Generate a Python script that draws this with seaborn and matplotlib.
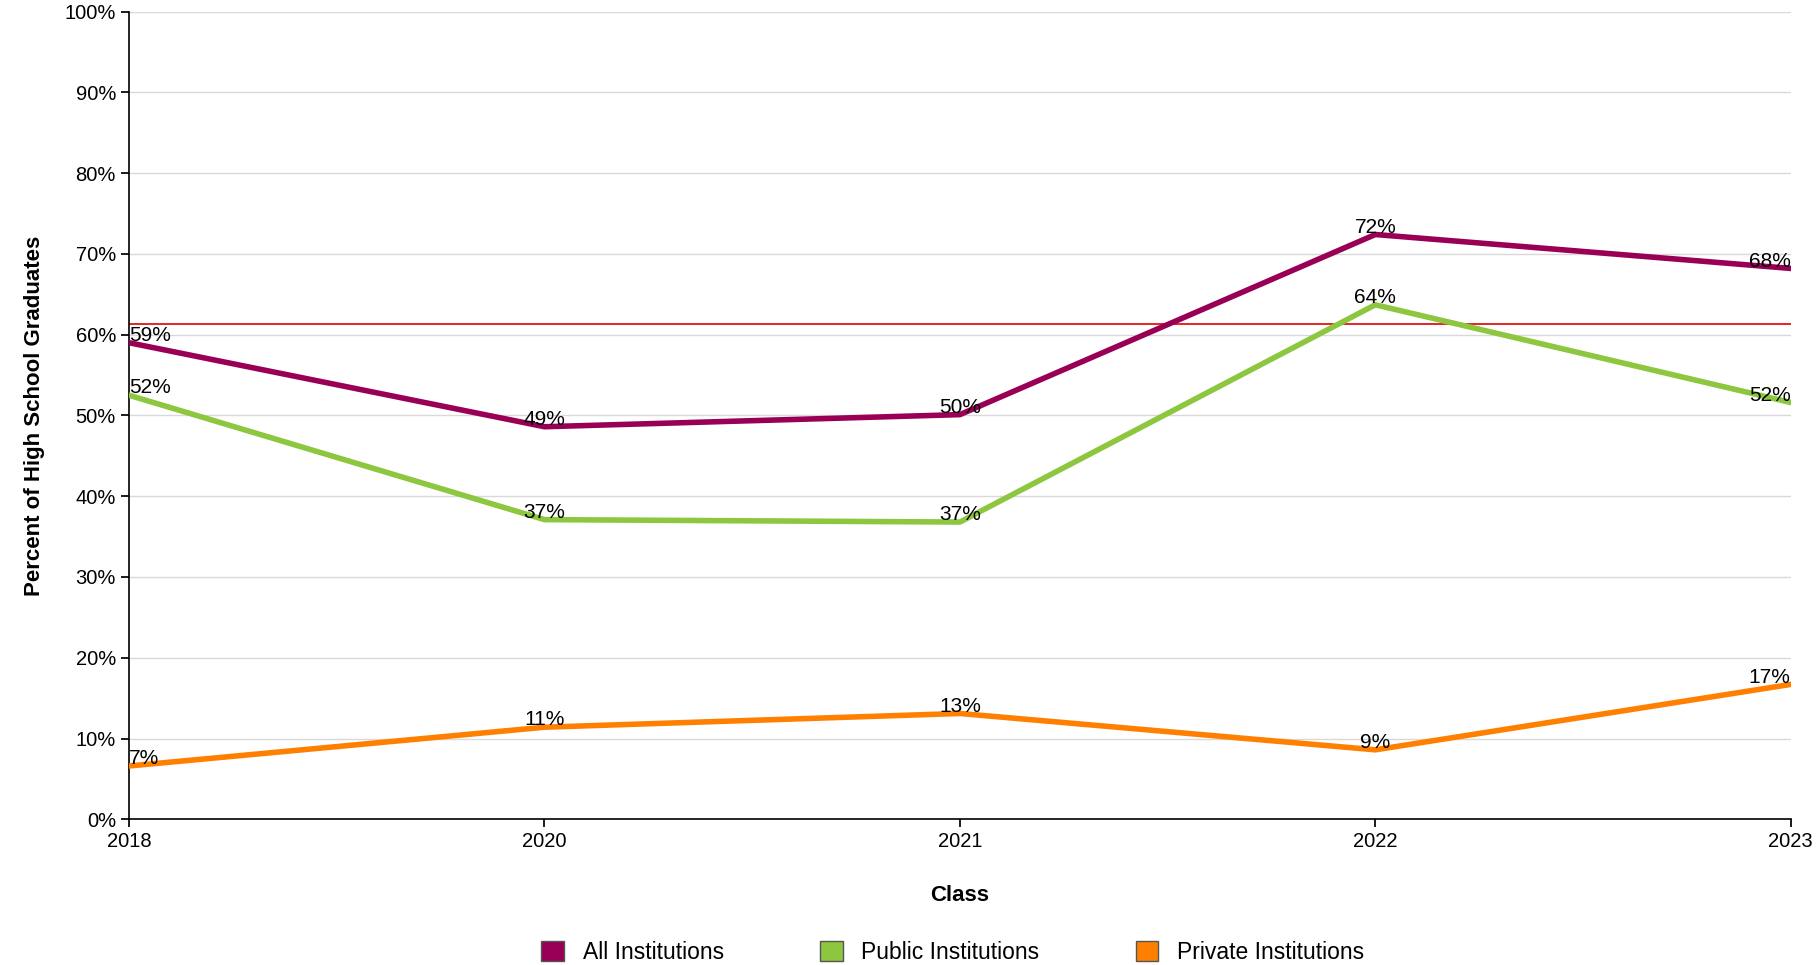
import matplotlib
matplotlib.use("Agg")
import matplotlib.pyplot as plt
import seaborn as sns
import pandas as pd
from matplotlib.patches import Patch

sns.set_theme(style="white")
plt.rcParams['font.family'] = ['Liberation Sans', 'DejaVu Sans']

classes = ['2018', '2020', '2021', '2022', '2023']
all_inst = [59.0, 48.6, 50.1, 72.4, 68.2]
public_inst = [52.5, 37.1, 36.8, 63.7, 51.6]
private_inst = [6.6, 11.4, 13.1, 8.6, 16.7]
reference_line = 61.3

series = {
    'All Institutions': (all_inst, '#990055'),
    'Public Institutions': (public_inst, '#8dc63f'),
    'Private Institutions': (private_inst, '#ff8000'),
}

rows = []
for name, (vals, _) in series.items():
    for i, v in enumerate(vals):
        rows.append({'x': i, 'value': v, 'series': name})
df = pd.DataFrame(rows)

fig = plt.figure(figsize=(18.18, 9.65), dpi=100)
ax = fig.add_axes([0.071, 0.151, 0.914, 0.837])

for y in range(10, 101, 10):
    ax.axhline(y, color='#d9d9d9', lw=1, zorder=0)
ax.axhline(reference_line, color='#e00000', lw=1.2, zorder=1)

palette = {k: c for k, (_, c) in series.items()}
sns.lineplot(data=df, x='x', y='value', hue='series', palette=palette,
             lw=4, legend=False, ax=ax, zorder=3)

for name, (vals, _) in series.items():
    for i, v in enumerate(vals):
        ha = 'left' if i == 0 else ('right' if i == 4 else 'center')
        ax.text(i, v + 0.9, f"{v:.0f}%", ha=ha, va='center',
                fontsize=15, color='black', zorder=4)

ax.set_xlim(0, 4)
ax.set_ylim(0, 100)
ax.set_xticks(range(5))
ax.set_xticklabels(classes, fontsize=14.5, color='black')
ax.set_yticks(range(0, 101, 10))
ax.set_yticklabels([f"{y}%" for y in range(0, 101, 10)], fontsize=14.5, color='black')
ax.tick_params(axis='both', length=6, color='black', direction='out', left=True, bottom=True)
for s in ['top', 'right']:
    ax.spines[s].set_visible(False)
for s in ['left', 'bottom']:
    ax.spines[s].set_color('black')
    ax.spines[s].set_linewidth(1.2)

ax.set_xlabel('Class', fontsize=16, fontweight='bold', labelpad=24, color='black')
ax.set_ylabel('Percent of High School Graduates', fontsize=16, fontweight='bold', labelpad=14, color='black')

handles = [Patch(facecolor=c, edgecolor='#555555', label=k) for k, (_, c) in series.items()]
fig.legend(handles=handles, loc='lower center', ncol=3, frameon=False,
           fontsize=16.5, bbox_to_anchor=(0.524, -0.02), handlelength=1, handleheight=1,
           columnspacing=4.2, labelcolor='black')

fig.savefig('out.png', dpi=100, facecolor='white')
